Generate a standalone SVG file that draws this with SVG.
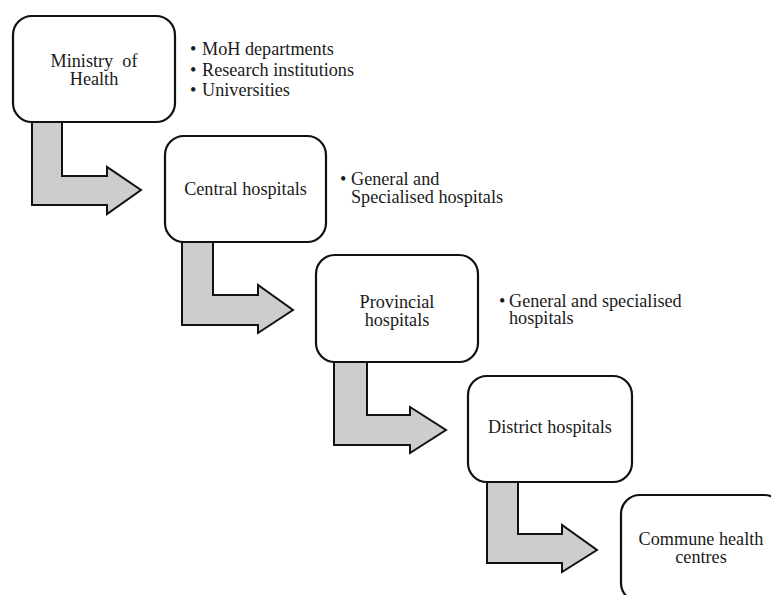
<svg xmlns="http://www.w3.org/2000/svg" width="771" height="595" viewBox="0 0 771 595">
<style>
.box{fill:#ffffff;stroke:#111111;stroke-width:2.2}
.arr{fill:#cdcdcd;stroke:#111111;stroke-width:2;stroke-linejoin:miter}
text{font-family:"Liberation Serif","Times New Roman",serif;font-size:18.2px;fill:#1a1a1a}
.c{text-anchor:middle}
</style>
<rect width="771" height="595" fill="#ffffff"/>
<g id="connectors">
<polygon class="arr" points="32,122 62,122 62,176 107,176 107,167 141,190 107,214 107,205 32,205"/>
<polygon class="arr" points="182,242 213,242 213,295 258,295 258,285 293,310 258,333 258,325 182,325"/>
<polygon class="arr" points="334,362 367,362 367,415 410,415 410,407 446,430 410,453 410,445 334,445"/>
<polygon class="arr" points="487,482 518,482 518,534 562,534 562,525 597,550 562,572 562,563 487,563"/>
</g>
<g id="ministry">
<rect class="box" x="13" y="16" width="162" height="106" rx="19"/>
<text class="c" x="94" y="67" xml:space="preserve">Ministry  of</text>
<text class="c" x="94" y="84.5">Health</text>
</g>
<g id="ministry-list">
<text x="190" y="55">•</text><text x="202" y="55">MoH departments</text>
<text x="190" y="75.5">•</text><text x="202" y="75.5">Research institutions</text>
<text x="190" y="96">•</text><text x="202" y="96">Universities</text>
</g>
<g id="central">
<rect class="box" x="165" y="136" width="161" height="106" rx="19"/>
<text class="c" x="245.5" y="195">Central hospitals</text>
</g>
<g id="central-list">
<text x="340" y="185">•</text><text x="351" y="185">General and</text>
<text x="351" y="202.5">Specialised hospitals</text>
</g>
<g id="provincial">
<rect class="box" x="316" y="255" width="162" height="107" rx="19"/>
<text class="c" x="397" y="308">Provincial</text>
<text class="c" x="397" y="325.5">hospitals</text>
</g>
<g id="provincial-list">
<text x="499" y="307">•</text><text x="509" y="307">General and specialised</text>
<text x="509" y="324">hospitals</text>
</g>
<g id="district">
<rect class="box" x="468" y="376" width="164" height="106" rx="19"/>
<text class="c" x="550" y="433">District hospitals</text>
</g>
<g id="commune">
<rect class="box" x="621" y="495" width="162" height="107" rx="19"/>
<text class="c" x="701" y="545">Commune health</text>
<text class="c" x="701" y="562.5">centres</text>
</g>
</svg>
